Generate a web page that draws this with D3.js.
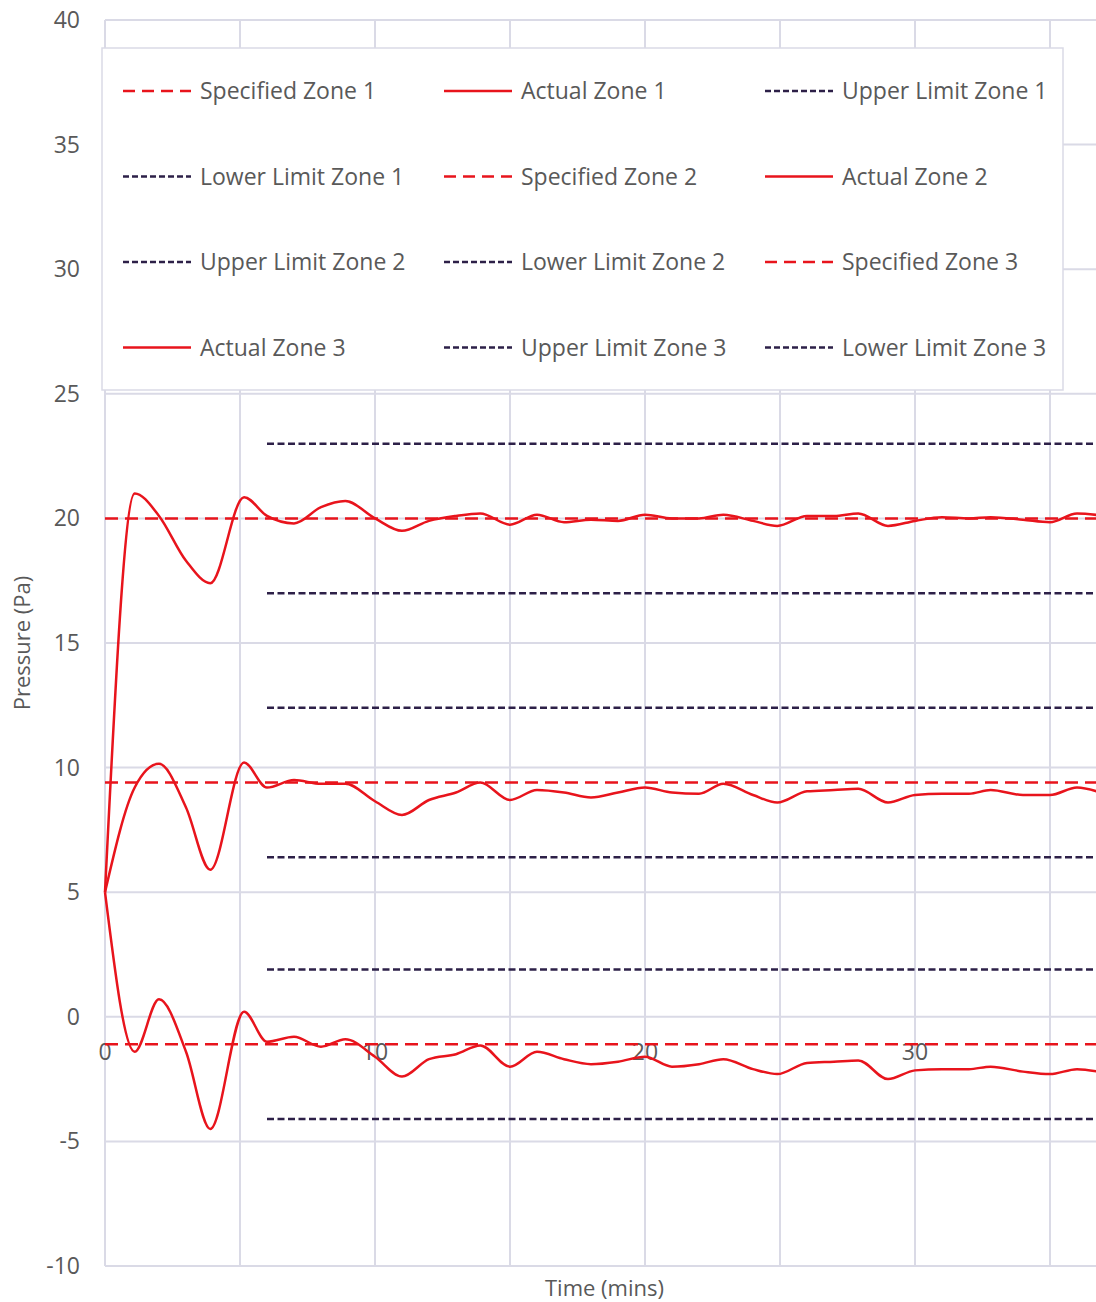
<!DOCTYPE html>
<html>
<head>
<meta charset="utf-8">
<script src="https://cdn.jsdelivr.net/npm/d3@7"></script>
<style>
  body { margin: 0; background: #fff; }
  svg { display: block; overflow: hidden; }
  text { font-family: "Open Sans", "Noto Sans", sans-serif; fill: #595959; }
</style>
</head>
<body>
<div id="chart"></div>
<script>
// data
var times = [0, 1.1, 2.0, 3.0, 3.9, 5.15, 6, 7, 8, 8.9, 10, 11, 12, 13, 13.9, 15, 16, 17, 18, 19,
             20, 21, 22, 22.9, 24, 24.9, 26, 27, 27.9, 29, 30, 31, 32, 32.8, 34, 35, 36, 37];
var actualZone1 = [5, 21.0, 20.1, 18.3, 17.4, 20.85, 20.1, 19.8, 20.45, 20.7, 20.0, 19.5, 19.9, 20.1, 20.2, 19.75, 20.15, 19.85, 19.95, 19.9,
                   20.15, 20.0, 20.0, 20.15, 19.9, 19.7, 20.1, 20.1, 20.2, 19.7, 19.9, 20.05, 20.0, 20.05, 19.95, 19.85, 20.2, 20.1];
var actualZone2 = [5, 9.2, 10.15, 8.4, 5.9, 10.2, 9.2, 9.5, 9.35, 9.35, 8.65, 8.1, 8.7, 9.0, 9.4, 8.7, 9.1, 9.0, 8.8, 9.0,
                   9.2, 9.0, 8.95, 9.35, 8.9, 8.6, 9.05, 9.1, 9.15, 8.6, 8.9, 8.95, 8.95, 9.1, 8.9, 8.9, 9.2, 8.95];
var actualZone3 = [5, -1.4, 0.7, -1.4, -4.5, 0.2, -1.0, -0.8, -1.2, -0.9, -1.6, -2.4, -1.7, -1.5, -1.15, -2.0, -1.4, -1.7, -1.9, -1.8,
                   -1.6, -2.0, -1.9, -1.7, -2.1, -2.3, -1.85, -1.8, -1.75, -2.5, -2.15, -2.1, -2.1, -2.0, -2.2, -2.3, -2.1, -2.25];

var specified = [20, 9.4, -1.1];
var upperLimit = [23, 12.4, 1.9];
var lowerLimit = [17, 6.4, -4.1];
var specifiedRange = [0, 37];
var limitRange = [6, 37];

var yTicks = [-10, -5, 0, 5, 10, 15, 20, 25, 30, 35, 40];
var xGridTicks = [0, 5, 10, 15, 20, 25, 30, 35];
var xLabelTicks = [0, 10, 20, 30];

var legendNames = ["Specified Zone 1", "Actual Zone 1", "Upper Limit Zone 1",
                   "Lower Limit Zone 1", "Specified Zone 2", "Actual Zone 2",
                   "Upper Limit Zone 2", "Lower Limit Zone 2", "Specified Zone 3",
                   "Actual Zone 3", "Upper Limit Zone 3", "Lower Limit Zone 3"];

var red = "#e8141c", navy = "#2d2048", grid = "#dadae6";

var margin = {top: 20, right: 0, bottom: 36, left: 105},
    width = 999,
    height = 1246;

var svg = d3.select("#chart")
  .append("svg")
    .attr("width", 1096)
    .attr("height", 1302);

var g = svg.append("g")
    .attr("transform", "translate(" + margin.left + "," + margin.top + ")");

var x = d3.scaleLinear().domain([0, 37]).range([0, width]);
var y = d3.scaleLinear().domain([-10, 40]).range([height, 0]);

// gridlines
g.selectAll(".hgrid").data(yTicks).enter().append("line")
  .attr("x1", 0).attr("x2", width)
  .attr("y1", function(d) { return y(d); }).attr("y2", function(d) { return y(d); })
  .attr("stroke", grid).attr("stroke-width", 2);
g.selectAll(".vgrid").data(xGridTicks).enter().append("line")
  .attr("x1", function(d) { return x(d); }).attr("x2", function(d) { return x(d); })
  .attr("y1", 0).attr("y2", height)
  .attr("stroke", grid).attr("stroke-width", 2);

// y tick labels
g.selectAll(".ylab").data(yTicks).enter().append("text")
  .attr("x", -25).attr("y", function(d) { return y(d); })
  .attr("dy", "0.35em")
  .attr("text-anchor", "end")
  .style("font-size", "23px")
  .text(function(d) { return d; });

// x tick labels sit under the y=0 line
g.selectAll(".xlab").data(xLabelTicks).enter().append("text")
  .attr("x", function(d) { return x(d); }).attr("y", y(0) + 43)
  .attr("text-anchor", "middle")
  .style("font-size", "23px")
  .text(function(d) { return d; });

// axis titles
svg.append("text")
  .attr("transform", "translate(30," + (margin.top + height / 2) + ") rotate(-90)")
  .attr("text-anchor", "middle")
  .style("font-size", "22px")
  .text("Pressure (Pa)");
svg.append("text")
  .attr("x", margin.left + width / 2).attr("y", 1296)
  .attr("text-anchor", "middle")
  .style("font-size", "22px")
  .text("Time (mins)");

// legend box
var legend = svg.append("g");
legend.append("rect")
  .attr("x", 102).attr("y", 48).attr("width", 961).attr("height", 342)
  .attr("fill", "#fff").attr("stroke", grid).attr("stroke-width", 1.5);

var styles = [];
for (var z = 0; z < 3; z++) {
  styles.push({dash: "12,7", color: red});   // specified
  styles.push({dash: null, color: red});     // actual
  styles.push({dash: "6,3", color: navy});   // upper
  styles.push({dash: "6,3", color: navy});   // lower
}

legendNames.forEach(function(name, i) {
  var col = i % 3, row = Math.floor(i / 3);
  var lx = 123 + col * 321, ly = 91 + row * 85.5;
  legend.append("line")
    .attr("x1", lx).attr("x2", lx + 68).attr("y1", ly).attr("y2", ly)
    .attr("stroke", styles[i].color).attr("stroke-width", 2.5)
    .attr("stroke-dasharray", styles[i].dash);
  legend.append("text")
    .attr("x", lx + 77).attr("y", ly).attr("dy", "0.35em")
    .style("font-size", "23px")
    .text(name);
});

// specified and limit lines
function hline(v, range, color, dash) {
  g.append("path")
    .datum(range)
    .attr("fill", "none")
    .attr("stroke", color)
    .attr("stroke-width", 2.5)
    .attr("stroke-dasharray", dash)
    .attr("d", d3.line()
      .x(function(d) { return x(d); })
      .y(function() { return y(v); }));
}
[0, 1, 2].forEach(function(k) {
  hline(upperLimit[k], limitRange, navy, "7,3.5");
  hline(lowerLimit[k], limitRange, navy, "7,3.5");
  hline(specified[k], specifiedRange, red, "13,7");
});

// actual lines, smoothed
var smooth = d3.line()
  .x(function(d, i) { return x(times[i]); })
  .y(function(d) { return y(d); })
  .curve(d3.curveMonotoneX);

[actualZone1, actualZone2, actualZone3].forEach(function(series) {
  g.append("path")
    .datum(series)
    .attr("fill", "none")
    .attr("stroke", red)
    .attr("stroke-width", 2.5)
    .attr("d", smooth);
});
</script>
</body>
</html>
